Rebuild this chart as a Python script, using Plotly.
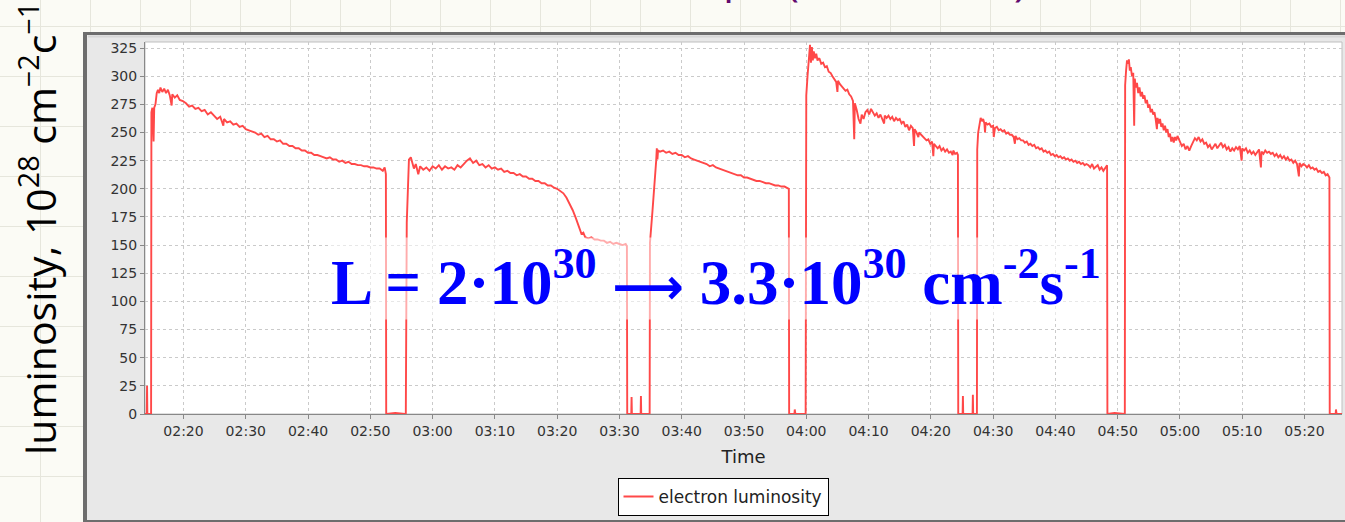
import pandas as pd
import plotly.graph_objects as go

W, H = 1345, 522
BASE = pd.Timestamp("2013-01-01 02:00:00")

# ---- data: (minutes after 02:00, luminosity in 1e28 cm^-2 s^-1) ----
fill_1 = [(13.8, 0), (14.1, 0), (14.15, 25), (14.2, 0), (14.8, 0), (14.85, 268), (15.0, 272), (15.2, 242),
          (15.3, 272), (15.5, 275), (15.7, 285), (15.9, 288), (16.1, 285), (16.3, 290), (16.6, 286), (16.9, 289),
          (17.2, 285), (17.5, 288), (17.8, 283), (18.1, 274), (18.2, 284), (18.6, 281), (19.0, 283), (19.4, 279),
          (19.9, 278), (20.4, 276), (20.9, 273), (21.4, 274), (21.9, 271), (22.4, 272), (22.9, 269), (23.4, 270),
          (23.9, 266), (24.4, 268), (24.9, 265), (25.4, 262), (25.9, 264), (26.4, 256), (26.5, 262), (27.0, 259),
          (27.5, 260), (28.0, 257), (28.5, 258), (29.0, 255), (29.5, 256), (30.0, 253), (30.5, 252), (31.0, 251),
          (31.5, 250), (32.0, 248), (32.5, 249), (33.0, 246), (33.5, 247), (34.0, 244), (34.5, 244), (35.0, 242),
          (35.5, 243), (36.0, 240), (36.5, 240), (37.0, 238), (37.5, 238), (38.0, 236), (38.5, 236), (39.0, 234),
          (39.5, 234), (40.0, 232), (40.5, 232), (41.0, 230), (41.5, 230), (42.0, 229), (42.5, 228), (43.0, 227),
          (43.5, 228), (44.0, 226), (44.5, 226), (45.0, 224), (45.5, 225), (46.0, 223), (46.5, 224), (47.0, 222),
          (47.5, 222), (48.0, 221), (48.5, 221), (49.0, 220), (49.5, 220), (50.0, 219), (50.5, 219), (51.0, 218),
          (51.5, 218), (52.0, 216), (52.3, 219), (52.5, 213)]

fill_2 = [(52.55, 0), (54.0, 1), (55.6, 0), (55.7, 0), (55.85, 170), (56.0, 205), (56.2, 226), (56.5, 228),
          (57.0, 218), (57.3, 222), (57.7, 213), (58.0, 220), (58.5, 217), (59.0, 219), (59.5, 216), (60.0, 220),
          (60.5, 218), (61.0, 221), (61.5, 217), (62.0, 220), (62.5, 218), (63.0, 219), (63.5, 217), (64.0, 221),
          (64.5, 219), (65.0, 222), (65.5, 225), (66.0, 227), (66.5, 223), (67.0, 225), (67.5, 221), (68.0, 222),
          (68.5, 219), (69.0, 221), (69.5, 218), (70.0, 219), (70.5, 217), (71.0, 218), (71.5, 215), (72.0, 216),
          (72.5, 214), (73.0, 214), (73.5, 212), (74.0, 213), (74.5, 211), (75.0, 211), (75.5, 209), (76.0, 209),
          (76.5, 207), (77.0, 207), (77.5, 205), (78.0, 205), (78.5, 203), (79.0, 203), (79.5, 201), (80.0, 200),
          (80.5, 198), (81.0, 196), (81.5, 192), (82.0, 187), (82.5, 181), (83.0, 174), (83.3, 169), (83.6, 163),
          (83.9, 160), (84.2, 161), (84.5, 157), (85.0, 156), (85.5, 157), (86.0, 155), (86.5, 155), (87.0, 154),
          (87.5, 154), (88.0, 152), (88.5, 153), (89.0, 151), (89.5, 152), (90.0, 151), (90.5, 150), (91.0, 151),
          (91.2, 149)]

fill_3 = [(91.25, 0), (91.9, 0), (91.95, 15), (92.0, 0), (93.4, 0), (93.45, 16), (93.5, 0), (94.85, 0),
          (94.9, 152), (95.3, 180), (95.6, 200), (95.9, 225), (96.0, 236), (96.1, 226), (96.2, 234), (96.5, 233),
          (97.0, 234), (97.5, 232), (98.0, 233), (98.5, 231), (99.0, 232), (99.5, 230), (100.0, 230), (100.5, 228),
          (101.0, 229), (101.5, 227), (102.0, 226), (102.5, 225), (103.0, 224), (103.5, 223), (104.0, 222),
          (104.5, 220), (105.0, 221), (105.5, 219), (106.0, 218), (106.5, 217), (107.0, 216), (107.5, 215),
          (108.0, 214), (108.5, 213), (109.0, 212), (109.5, 212), (110.0, 210), (110.5, 210), (111.0, 209),
          (111.5, 208), (112.0, 207), (112.5, 207), (113.0, 206), (113.5, 205), (114.0, 205), (114.5, 204),
          (115.0, 203), (115.5, 203), (116.0, 202), (116.5, 202), (117.0, 201), (117.2, 200)]

fill_4 = [(117.25, 0), (118.1, 0), (118.15, 4), (118.25, 0), (119.9, 0),
          (120.0, 283), (120.2, 300), (120.4, 318), (120.6, 328), (120.75, 312), (120.9, 326), (121.05, 314),
          (121.2, 322), (121.4, 316), (121.6, 320), (121.8, 314), (122.1, 316), (122.4, 311), (122.7, 312),
          (123.0, 308), (123.3, 309), (123.6, 304), (123.9, 303), (124.2, 300), (124.5, 297), (124.8, 295),
          (125.0, 286), (125.1, 296), (125.4, 293), (125.7, 291), (126.0, 290), (126.3, 287), (126.6, 288),
          (126.9, 284), (127.2, 282), (127.5, 278), (127.7, 244), (127.8, 276), (128.1, 270), (128.4, 262),
          (128.7, 258), (128.9, 266), (129.2, 262), (129.5, 268), (129.8, 270), (130.1, 266), (130.4, 271),
          (130.7, 268), (131.0, 265), (131.3, 267), (131.6, 263), (131.9, 266), (132.2, 262), (132.5, 258),
          (132.6, 265), (132.9, 263), (133.2, 265), (133.5, 262), (133.8, 264), (134.1, 260), (134.4, 263),
          (134.7, 261), (135.0, 262), (135.3, 258), (135.6, 260), (135.9, 255), (136.2, 257), (136.5, 252),
          (136.8, 256), (137.1, 254), (137.3, 238), (137.4, 253), (137.7, 250), (138.0, 246), (138.1, 250),
          (138.4, 248), (138.7, 247), (139.0, 245), (139.3, 243), (139.6, 244), (139.9, 240), (140.2, 242),
          (140.4, 229), (140.5, 240), (140.8, 238), (141.1, 236), (141.4, 238), (141.7, 234), (142.0, 236),
          (142.3, 233), (142.6, 235), (142.9, 232), (143.2, 233), (143.5, 230), (143.6, 234), (143.9, 231),
          (144.2, 232), (144.35, 230)]

fill_5 = [(144.4, 0), (145.1, 0), (145.15, 16), (145.2, 0), (146.7, 0), (146.75, 17), (146.8, 0), (147.4, 0),
          (147.45, 235), (147.6, 250), (147.8, 257), (148.0, 263), (148.2, 260), (148.4, 262), (148.6, 258),
          (148.7, 250), (148.8, 259), (149.1, 257), (149.4, 258), (149.7, 255), (150.0, 256), (150.1, 246),
          (150.3, 254), (150.6, 255), (150.9, 252), (151.2, 253), (151.5, 251), (151.8, 252), (152.1, 249),
          (152.4, 250), (152.7, 248), (153.0, 248), (153.3, 246), (153.5, 240), (153.6, 247), (153.9, 244),
          (154.2, 245), (154.5, 243), (154.8, 243), (155.1, 241), (155.4, 242), (155.7, 239), (156.0, 240),
          (156.3, 238), (156.6, 239), (156.9, 236), (157.2, 237), (157.5, 235), (157.8, 236), (158.1, 233),
          (158.4, 234), (158.7, 232), (159.0, 233), (159.3, 230), (159.6, 231), (159.9, 229), (160.2, 230),
          (160.5, 228), (160.8, 229), (161.1, 227), (161.4, 228), (161.7, 226), (162.0, 227), (162.3, 225),
          (162.6, 226), (162.9, 224), (163.2, 225), (163.5, 223), (163.8, 224), (164.1, 222), (164.4, 223),
          (164.7, 221), (165.0, 222), (165.3, 221), (165.6, 219), (165.9, 222), (166.2, 218), (166.5, 220),
          (166.8, 221), (167.1, 217), (167.4, 219), (167.7, 216), (168.0, 219), (168.3, 221)]

fill_6 = [(168.35, 0), (169.5, 1), (171.15, 0),
          (171.2, 292), (171.35, 305), (171.5, 314), (171.65, 311), (171.8, 315), (171.95, 305), (172.1, 308),
          (172.3, 300), (172.5, 303), (172.65, 256), (172.75, 298), (172.9, 290), (173.1, 294), (173.3, 285),
          (173.5, 290), (173.7, 282), (173.9, 286), (174.1, 280), (174.3, 283), (174.5, 276), (174.7, 279),
          (174.9, 272), (175.1, 275), (175.3, 268), (175.5, 271), (175.7, 266), (175.9, 268), (176.1, 262),
          (176.3, 253), (176.4, 263), (176.6, 258), (176.8, 262), (177.0, 255), (177.2, 258), (177.4, 252),
          (177.6, 256), (177.8, 250), (178.0, 253), (178.2, 246), (178.4, 249), (178.6, 242), (178.8, 246),
          (179.0, 241), (179.2, 246), (179.4, 243), (179.6, 247), (179.8, 244), (180.0, 241), (180.3, 238),
          (180.6, 240), (180.9, 235), (181.2, 238), (181.5, 234), (181.8, 238), (182.1, 242), (182.4, 245),
          (182.7, 243), (183.0, 246), (183.3, 242), (183.6, 244), (183.9, 240), (184.2, 241), (184.5, 237),
          (184.8, 239), (185.1, 235), (185.4, 238), (185.7, 240), (186.0, 236), (186.3, 239), (186.6, 241),
          (186.9, 237), (187.2, 239), (187.5, 235), (187.8, 237), (188.1, 233), (188.4, 236), (188.7, 234),
          (189.0, 237), (189.3, 235), (189.6, 238), (189.9, 225), (190.0, 236), (190.3, 234), (190.6, 236),
          (190.9, 232), (191.2, 234), (191.5, 231), (191.8, 233), (192.1, 230), (192.4, 233), (192.7, 235),
          (193.0, 219), (193.1, 233), (193.4, 231), (193.7, 234), (194.0, 232), (194.3, 233), (194.6, 231),
          (194.9, 232), (195.2, 229), (195.5, 231), (195.8, 228), (196.1, 230), (196.4, 227), (196.7, 229),
          (197.0, 226), (197.3, 228), (197.6, 225), (197.9, 226), (198.2, 223), (198.5, 225), (198.8, 222),
          (199.1, 211), (199.2, 223), (199.5, 220), (199.8, 222), (200.1, 221), (200.4, 219), (200.7, 221),
          (201.0, 218), (201.3, 219), (201.6, 217), (201.9, 218), (202.2, 215), (202.5, 216), (202.8, 214),
          (203.1, 215), (203.4, 212), (203.7, 213), (204.0, 210), (204.05, 0), (205.0, 0), (205.05, 4),
          (205.15, 0), (206.1, 0)]

x_tick_labels = ["02:20", "02:30", "02:40", "02:50", "03:00", "03:10", "03:20", "03:30", "03:40", "03:50",
                 "04:00", "04:10", "04:20", "04:30", "04:40", "04:50", "05:00", "05:10", "05:20"]
y_tick_values = [0, 25, 50, 75, 100, 125, 150, 175, 200, 225, 250, 275, 300, 325]
x_range_min = [13.82, 206.02]
y_range = [0, 330.4]

series_name = "electron luminosity"
x_title = "Time"
side_label = "luminosity, 10<sup>28</sup> cm<sup>\u22122</sup>c<sup>\u22121</sup>"
big_label = ("<b>L = 2\u00b710<sup>30</sup> <span style='font-family:DejaVu Sans;font-size:50px'>\u27f6</span> "
             "3.3\u00b710<sup>30</sup> cm<sup>-2</sup>s<sup>-1</sup></b>")

# ---- build ----
points = fill_1 + fill_2 + fill_3 + fill_4 + fill_5 + fill_6
xs = [BASE + pd.Timedelta(minutes=t) for t, _ in points]
ys = [v for _, v in points]
tickvals = [pd.Timestamp("2013-01-01 " + s + ":00") for s in x_tick_labels]

fig = go.Figure()
fig.add_trace(go.Scatter(x=xs, y=ys, mode="lines", name=series_name,
                         line=dict(color="#ff4848", width=1.9), xaxis="x", yaxis="y"))
# empty traces for the slide-background grid bands
fig.add_trace(go.Scatter(x=[], y=[], xaxis="x2", yaxis="y2", showlegend=False))
fig.add_trace(go.Scatter(x=[], y=[], xaxis="x3", yaxis="y3", showlegend=False))

PAPER = "#fbfbf5"
BGGRID = "#e6e6dc"
tickfont = dict(family="DejaVu Sans", size=14, color="#333333")

fig.update_layout(
    width=W, height=H, margin=dict(l=0, r=0, t=0, b=0, autoexpand=False),
    paper_bgcolor=PAPER, plot_bgcolor=PAPER,
    showlegend=True,
    legend=dict(x=723 / W, y=6 / H, xanchor="center", yanchor="bottom", orientation="h",
                bgcolor="white", bordercolor="#000000", borderwidth=1, itemwidth=30,
                font=dict(family="DejaVu Sans", size=17, color="#222222")),
    xaxis=dict(domain=[145 / W, 1342 / W], anchor="y", type="date", automargin=False,
               range=[BASE + pd.Timedelta(minutes=x_range_min[0]), BASE + pd.Timedelta(minutes=x_range_min[1])],
               tickvals=tickvals, ticktext=x_tick_labels, ticks="outside", ticklen=4, tickcolor="#888888",
               showline=True, linecolor="#888888", linewidth=1, showgrid=True, gridcolor="#cacaca",
               griddash="3px,3px", gridwidth=1, zeroline=False, tickfont=tickfont,
               title=dict(text=x_title, font=dict(family="DejaVu Sans", size=18, color="#222222"), standoff=12)),
    yaxis=dict(domain=[1 - 414 / H, 1 - 42 / H], anchor="x", range=y_range, automargin=False,
               tickvals=y_tick_values, ticks="outside", ticklen=4, tickcolor="#888888",
               showline=True, linecolor="#888888", linewidth=1, showgrid=True, gridcolor="#cacaca",
               griddash="3px,3px", gridwidth=1, zeroline=False, tickfont=tickfont),
    xaxis2=dict(domain=[0, 1], anchor="y2", range=[0, W], tick0=40, dtick=50, showgrid=True, automargin=False,
                gridcolor=BGGRID, showticklabels=False, zeroline=False, ticks=""),
    yaxis2=dict(domain=[1 - 32 / H, 1], anchor="x2", range=[32, 0], tick0=26, dtick=50, showgrid=True,
                automargin=False, gridcolor=BGGRID, showticklabels=False, zeroline=False, ticks=""),
    xaxis3=dict(domain=[0, 83 / W], anchor="y3", range=[0, 83], tick0=40, dtick=50, showgrid=True,
                automargin=False, gridcolor=BGGRID, showticklabels=False, zeroline=False, ticks=""),
    yaxis3=dict(domain=[0, 1], anchor="x3", range=[H, 0], tick0=26, dtick=50, showgrid=True, automargin=False,
                gridcolor=BGGRID, showticklabels=False, zeroline=False, ticks=""),
)

PANEL_EDGE = "#6d6d6d"
fig.add_shape(type="rect", xref="paper", yref="paper", x0=83 / W, x1=1, y0=0, y1=1 - 32 / H,
              fillcolor="#e8e8e8", line=dict(width=0), layer="below")
fig.add_shape(type="line", xref="paper", yref="paper", x0=83 / W, x1=1, y0=1 - 33.5 / H, y1=1 - 33.5 / H,
              line=dict(color=PANEL_EDGE, width=3), layer="below")
fig.add_shape(type="line", xref="paper", yref="paper", x0=88 / W, x1=1, y0=1 - 36.5 / H, y1=1 - 36.5 / H,
              line=dict(color="#d6d6d6", width=2), layer="below")
fig.add_shape(type="line", xref="paper", yref="paper", x0=85 / W, x1=85 / W, y0=0, y1=1 - 32 / H,
              line=dict(color=PANEL_EDGE, width=4), layer="below")
fig.add_shape(type="line", xref="paper", yref="paper", x0=83 / W, x1=1, y0=1 - 521 / H, y1=1 - 521 / H,
              line=dict(color=PANEL_EDGE, width=2), layer="below")
fig.add_shape(type="rect", xref="x domain", yref="y domain", x0=0, x1=1, y0=0, y1=1,
              fillcolor="white", line=dict(color="#bfbfbf", width=1), layer="below")

# big blue formula with translucent backing
fig.add_annotation(text=big_label, xref="paper", yref="paper", x=329 / W, y=1 - 320 / H,
                   xanchor="left", yanchor="bottom", showarrow=False, bgcolor="rgba(255,255,255,0.55)",
                   font=dict(family="Liberation Serif", size=63, color="#0000ff"))
# rotated side label of the slide
fig.add_annotation(text=side_label, xref="paper", yref="paper", x=38 / W, y=1 - 229 / H,
                   xanchor="center", yanchor="middle", textangle=-90, showarrow=False,
                   font=dict(family="Open Sans", size=41, color="#000000"))
# bottom fragments of the slide title (cut off by the top edge)
PURPLE = "#620a6e"
for txt, px, py in [("p", 721, 6.5), ("(", 784, 9.5), (")", 1012, 9.5)]:
    fig.add_annotation(text=txt, xref="paper", yref="paper", x=px / W, y=1 - py / H,
                       xanchor="left", yanchor="bottom", showarrow=False,
                       font=dict(family="Open Sans", size=44, color=PURPLE))

fig.write_html("out.html")
